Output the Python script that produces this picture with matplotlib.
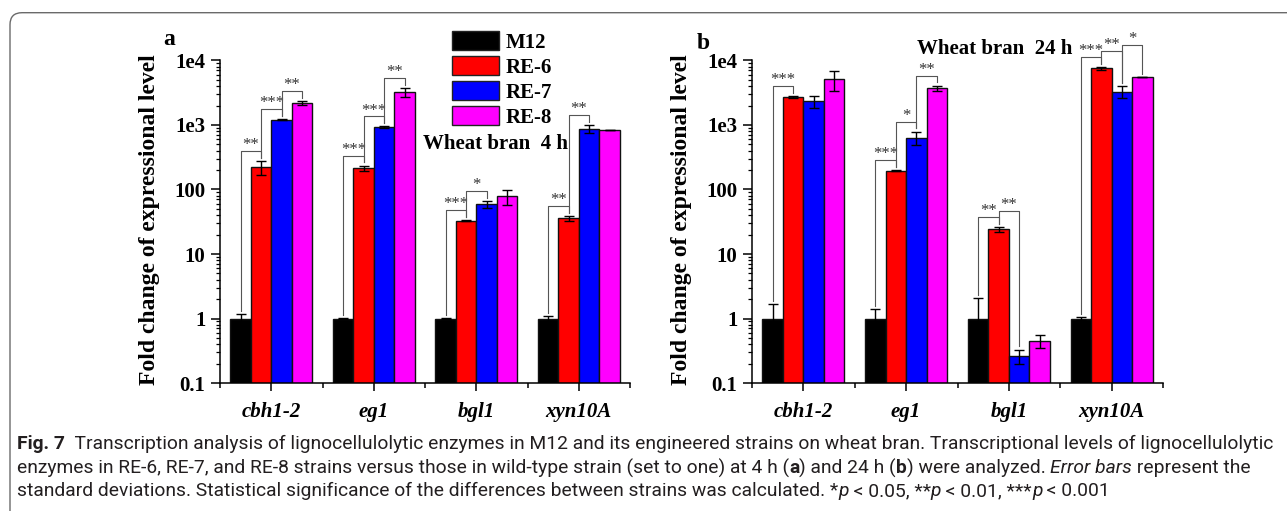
import numpy as np
import matplotlib
matplotlib.use("Agg")
import matplotlib.pyplot as plt
from matplotlib.patches import Patch, FancyBboxPatch
from matplotlib.ticker import LogLocator, NullFormatter

# ====== DATA ======
genes = ["cbh1-2", "eg1", "bgl1", "xyn10A"]
strains = ["M12", "RE-6", "RE-7", "RE-8"]
ytick_vals = [0.1, 1, 10, 100, 1e3, 1e4]
ytick_labels = ["0.1", "1", "10", "100", "1e3", "1e4"]

# 4 h, wheat bran
m12_4h = [1.0, 1.0, 1.0, 1.0]
re6_4h = [220, 215, 33, 36]
re7_4h = [1200, 930, 59, 870]
re8_4h = [2200, 3250, 78, 840]
m12_4h_sd = [0.18, 0.02, 0.02, 0.1]
re6_4h_sd = [55, 20, 1, 3]
re7_4h_sd = [20, 20, 8, 120]
re8_4h_sd = [150, 500, 20, 10]

# 24 h, wheat bran
m12_24h = [1.0, 1.0, 1.0, 1.0]
re6_24h = [2710, 195, 24, 7520]
re7_24h = [2350, 640, 0.265, 3280]
re8_24h = [5080, 3730, 0.45, 5520]
m12_24h_sd = [0.66, 0.41, 1.05, 0.04]
re6_24h_sd = [100, 3, 2, 300]
re7_24h_sd = [500, 150, 0.065, 700]
re8_24h_sd = [1700, 350, 0.1, 50]

# significance brackets: (gene index, strain i, strain j, label)
sig_4h = [(0, 0, 1, "**"), (0, 1, 2, "***"), (0, 2, 3, "**"),
          (1, 0, 1, "***"), (1, 1, 2, "***"), (1, 2, 3, "**"),
          (2, 0, 1, "***"), (2, 1, 2, "*"),
          (3, 0, 1, "**"), (3, 1, 2, "**")]
sig_24h = [(0, 0, 1, "***"),
           (1, 0, 1, "***"), (1, 1, 2, "*"), (1, 2, 3, "**"),
           (2, 0, 1, "**"), (2, 1, 2, "**"),
           (3, 0, 1, "***"), (3, 1, 2, "**"), (3, 2, 3, "*")]

# ====== STYLE ======
colors = ["#000000", "#ff0000", "#0000ff", "#ff00ff"]
offsets = [-0.3, -0.1, 0.1, 0.3]
SERIF = "Liberation Serif"
CAP_FONT = "Roboto"
CAP_COLOR = "#231f20"
plt.rcParams["font.family"] = SERIF
plt.rcParams["font.weight"] = "bold"

W, H = 1287, 511
fig = plt.figure(figsize=(W / 100, H / 100), dpi=100)

# rounded frame around figure + caption
frame = FancyBboxPatch((0.10, -0.3), 13.5, 4.983 + 0.3, boxstyle="round,pad=0,rounding_size=0.12",
                       transform=fig.dpi_scale_trans, facecolor="none",
                       edgecolor="#6a6a6a", linewidth=1.0, clip_on=False)
fig.patches.append(frame)

ax_a = fig.add_axes([220 / W, 1 - 383 / H, 410 / W, (383 - 60.5) / H])
ax_b = fig.add_axes([752 / W, 1 - 383 / H, 411 / W, (383 - 60.5) / H])


def draw_panel(ax, means, sds, sig):
    x = np.arange(1, len(genes) + 1)
    ax.set_yscale("log")
    tops = []
    for k in range(len(strains)):
        m = np.array(means[k], dtype=float)
        s = np.array(sds[k], dtype=float)
        lower = np.minimum(s, m * 0.95)
        ax.bar(x + offsets[k], m, width=0.2, color=colors[k],
               edgecolor="#111111", linewidth=1.0, zorder=2)
        ax.errorbar(x + offsets[k], m, yerr=[lower, s], fmt="none",
                    ecolor="black", elinewidth=1.0, capsize=3.5,
                    capthick=1.0, zorder=3)
        tops.append(m + s)

    # brackets
    prev = {}
    for g, i, j, lab in sig:
        t_i, t_j = tops[i][g], tops[j][g]
        h = max(t_i, t_j) * 1.43
        if g in prev and prev[g][0] == i:
            h = max(h, prev[g][1] * 1.25)
        prev[g] = (j, h)
        xi, xj = x[g] + offsets[i], x[g] + offsets[j]
        ax.plot([xi, xi, xj, xj], [t_i * 1.12, h, h, t_j * 1.12],
                color="#555555", lw=0.8, clip_on=False, zorder=4)
        ax.annotate(lab, xy=((xi + xj) / 2, h), xytext=(0, -1.5),
                    textcoords="offset points", ha="center", va="bottom",
                    fontsize=12, fontweight="normal", color="#333333",
                    annotation_clip=False)

    ax.set_ylim(0.1, 1e4)
    ax.set_xlim(0.5, 4.5)
    ax.set_yticks(ytick_vals)
    ax.set_yticklabels(ytick_labels, fontsize=15, fontweight="bold")
    ax.yaxis.set_minor_locator(LogLocator(base=10, subs=np.arange(2, 10)))
    ax.yaxis.set_minor_formatter(NullFormatter())
    ax.set_xticks(x)
    ax.set_xticklabels(genes, fontsize=15, fontweight="bold", fontstyle="italic")
    ax.set_xticks(np.arange(0.5, 5.0, 1.0), minor=True)
    ax.tick_params(axis="y", which="major", direction="out", length=6.5, width=1.1, pad=4)
    ax.tick_params(axis="y", which="minor", direction="out", length=3.2, width=0.9)
    ax.tick_params(axis="x", which="major", direction="out", length=6, width=1.1, pad=8)
    ax.tick_params(axis="x", which="minor", direction="out", length=3.5, width=1.1)
    for sp in ["top", "right"]:
        ax.spines[sp].set_visible(False)
    for sp in ["left", "bottom"]:
        ax.spines[sp].set_linewidth(1.1)


draw_panel(ax_a, [m12_4h, re6_4h, re7_4h, re8_4h],
           [m12_4h_sd, re6_4h_sd, re7_4h_sd, re8_4h_sd], sig_4h)
draw_panel(ax_b, [m12_24h, re6_24h, re7_24h, re8_24h],
           [m12_24h_sd, re6_24h_sd, re7_24h_sd, re8_24h_sd], sig_24h)

# y labels, panel letters, titles
for xc in (150, 682):
    fig.text(xc / W, 1 - 220 / H, "Fold change of expressional level", rotation=90,
             ha="center", va="center", fontsize=17, fontweight="bold")
fig.text(169 / W, 1 - 39 / H, "a", ha="center", va="center", fontsize=17, fontweight="bold")
fig.text(703 / W, 1 - 43 / H, "b", ha="center", va="center", fontsize=17, fontweight="bold")
fig.text(423 / W, 1 - 144 / H, "Wheat bran  4 h", ha="left", va="center", fontsize=15, fontweight="bold")
fig.text(995 / W, 1 - 49 / H, "Wheat bran  24 h", ha="center", va="center", fontsize=15, fontweight="bold")

# legend
handles = [Patch(facecolor=c, edgecolor="#222222", linewidth=1.0) for c in colors]
fig.legend(handles, strains, loc="upper left", bbox_to_anchor=(452 / W, 1 - 31 / H),
           frameon=False, borderpad=0, borderaxespad=0, handlelength=2.26,
           handleheight=1.06, labelspacing=0.15, handletextpad=0.3,
           prop={"family": SERIF, "weight": "bold", "size": 15})

# ====== caption (mixed styles) ======
cap_lines = [
    [("Fig. 7", {"fontweight": "bold"}),
     ("  Transcription analysis of lignocellulolytic enzymes in M12 and its engineered strains on wheat bran. "
      "Transcriptional levels of lignocellulolytic", {})],
    [("enzymes in RE-6, RE-7, and RE-8 strains versus those in wild-type strain (set to one) at 4 h (", {}),
     ("a", {"fontweight": "bold"}), (") and 24 h (", {}), ("b", {"fontweight": "bold"}),
     (") were analyzed. ", {}), ("Error bars", {"fontstyle": "italic"}), (" represent the", {})],
    [("standard deviations. Statistical significance of the differences between strains was calculated. *", {}),
     ("p", {"fontstyle": "italic"}), (" < 0.05, **", {}), ("p", {"fontstyle": "italic"}),
     (" < 0.01, ***", {}), ("p", {"fontstyle": "italic"}), (" < 0.001", {})],
]
cap_y = [444, 468, 491]
renderer = fig.canvas.get_renderer()


def draw_line(pieces, y_px, size, draw=True):
    x = 17.0
    made = []
    for s, kw in pieces:
        style = {"fontweight": "normal"}
        style.update(kw)
        t = fig.text(x / W, 1 - y_px / H, s, ha="left", va="center", fontsize=size,
                     family=CAP_FONT, color=CAP_COLOR, **style)
        x += t.get_window_extent(renderer).width
        made.append(t)
    if not draw:
        for t in made:
            t.remove()
    return x


end = draw_line(cap_lines[0], cap_y[0], 12, draw=False)
cap_size = 12 * (1270 - 17) / (end - 17)
for pieces, yy in zip(cap_lines, cap_y):
    draw_line(pieces, yy, cap_size)

fig.savefig("out.png", dpi=100)
